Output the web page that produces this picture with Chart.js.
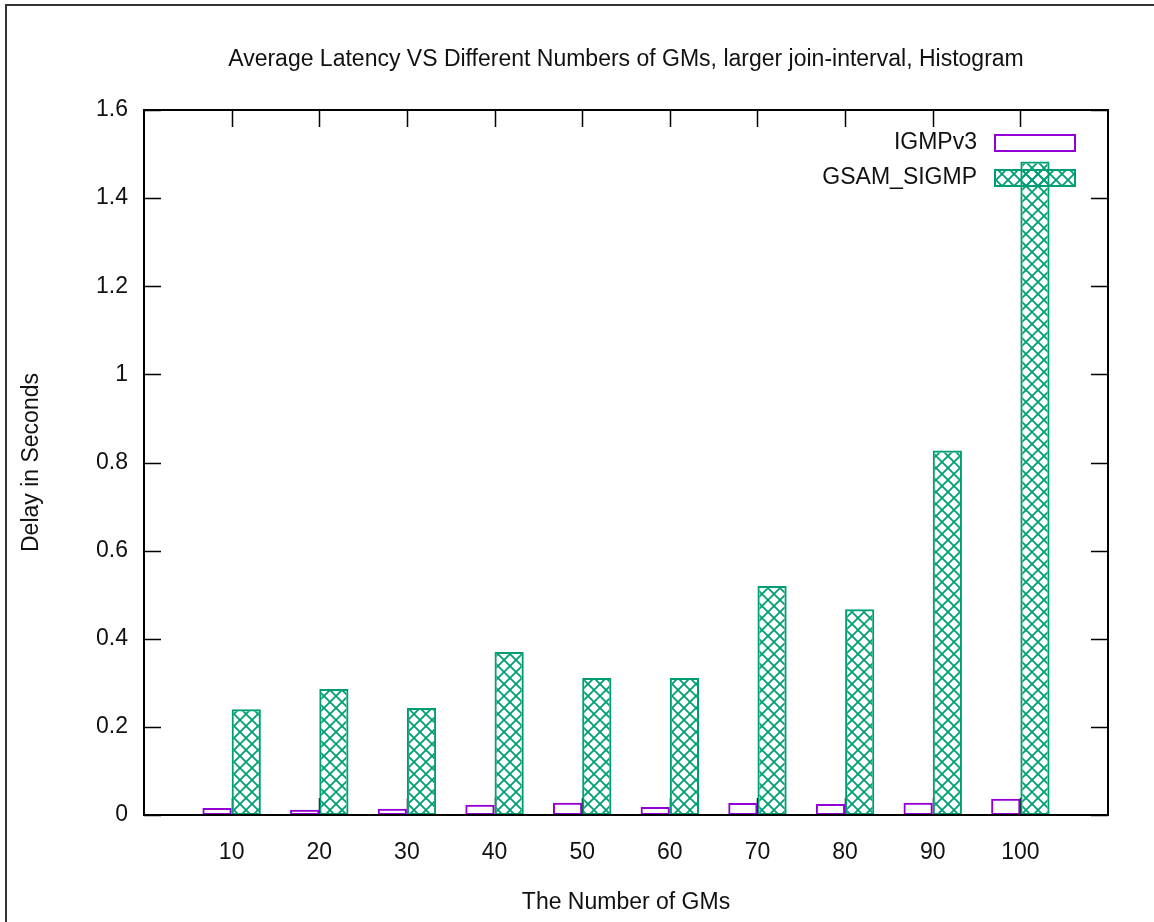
<!DOCTYPE html>
<html>
<head>
<meta charset="utf-8">
<script src="https://cdn.jsdelivr.net/npm/chart.js@4/dist/chart.umd.min.js"></script>
<style>
  html, body { margin: 0; padding: 0; background: #fff; }
  #wrap { width: 1154px; height: 922px; }
</style>
</head>
<body>
<div id="wrap"><canvas id="latencyChart" width="1154" height="922"></canvas></div>
<script>
// dados
const GMS = [10, 20, 30, 40, 50, 60, 70, 80, 90, 100];
const IGMPV3 = [0.016, 0.012, 0.014, 0.023, 0.028, 0.018, 0.027, 0.025, 0.028, 0.037];
const GSAM_SIGMP = [0.240, 0.286, 0.243, 0.370, 0.311, 0.311, 0.520, 0.467, 0.827, 1.483];
const Y_TICKS = [0, 0.2, 0.4, 0.6, 0.8, 1, 1.2, 1.4, 1.6];

const FONT = { family: "'Liberation Sans', Arial, sans-serif", size: 23 };
const TEXT = '#111';
const PURPLE = '#9400d3';
const GREEN = '#009e73';

// padrão xadrez diagonal (estilo gnuplot)
function crossHatch(color) {
    const n = 12;
    const c = document.createElement('canvas');
    c.width = n; c.height = n;
    const g = c.getContext('2d');
    g.strokeStyle = color;
    g.lineWidth = 1.8;
    g.beginPath();
    g.moveTo(-1, -1); g.lineTo(n + 1, n + 1);
    g.moveTo(n + 1, -1); g.lineTo(-1, n + 1);
    g.stroke();
    return g.createPattern(c, 'repeat');
}
const hatch = crossHatch(GREEN);

// moldura, ticks internos e legenda
const gnuplotFrame = {
    id: 'gnuplotFrame',
    beforeDraw(chart) {
        const ctx = chart.ctx;
        ctx.save();
        ctx.strokeStyle = '#333';
        ctx.lineWidth = 2;
        ctx.beginPath();
        ctx.moveTo(6, chart.height);
        ctx.lineTo(6, 5);
        ctx.lineTo(chart.width, 5);
        ctx.stroke();
        ctx.restore();
    },
    beforeDatasetsDraw(chart) {
        const { ctx, chartArea: a, scales } = chart;
        const len = 17;
        ctx.save();
        ctx.strokeStyle = '#000';
        ctx.lineWidth = 1.5;
        ctx.beginPath();
        scales.y.ticks.forEach(t => {
            const py = Math.round(scales.y.getPixelForValue(t.value)) + 0.5;
            ctx.moveTo(a.left, py); ctx.lineTo(a.left + len, py);
            ctx.moveTo(a.right, py); ctx.lineTo(a.right - len, py);
        });
        scales.x.ticks.forEach(t => {
            const px = Math.round(scales.x.getPixelForValue(t.value)) + 0.5;
            ctx.moveTo(px, a.bottom); ctx.lineTo(px, a.bottom - len);
            ctx.moveTo(px, a.top); ctx.lineTo(px, a.top + len);
        });
        ctx.stroke();
        ctx.restore();
    },
    afterDatasetsDraw(chart) {
        const { ctx, chartArea: a } = chart;
        ctx.save();
        ctx.strokeStyle = '#000';
        ctx.lineWidth = 2;
        ctx.strokeRect(a.left, a.top, a.right - a.left, a.bottom - a.top);

        // legenda (texto à esquerda, amostra à direita)
        const boxR = a.right - 32, boxW = 82, boxH = 18;
        const textX = boxR - boxW - 17;
        ctx.font = FONT.size + 'px ' + FONT.family;
        ctx.textAlign = 'right';
        ctx.textBaseline = 'middle';
        chart.data.datasets.forEach((ds, i) => {
            const cy = a.top + 33 + i * 35;
            ctx.fillStyle = TEXT;
            ctx.fillText(ds.label, textX, cy);
            ctx.fillStyle = ds.backgroundColor;
            ctx.fillRect(boxR - boxW, cy - boxH / 2, boxW, boxH);
            ctx.strokeStyle = ds.borderColor;
            ctx.lineWidth = 2;
            ctx.strokeRect(boxR - boxW + 1, cy - boxH / 2 + 1, boxW - 2, boxH - 2);
        });
        ctx.restore();
    }
};

Chart.defaults.font.family = FONT.family;
Chart.defaults.color = TEXT;

new Chart(document.getElementById('latencyChart'), {
    type: 'bar',
    data: {
        datasets: [{
            label: 'IGMPv3',
            data: IGMPV3.map((v, i) => ({ x: i + 1, y: v })),
            backgroundColor: 'rgba(255,255,255,0)',
            borderColor: PURPLE,
            borderWidth: 2,
            borderSkipped: false
        }, {
            label: 'GSAM_SIGMP',
            data: GSAM_SIGMP.map((v, i) => ({ x: i + 1, y: v })),
            backgroundColor: hatch,
            borderColor: GREEN,
            borderWidth: 2,
            borderSkipped: false
        }]
    },
    options: {
        responsive: false,
        animation: false,
        devicePixelRatio: 1,
        categoryPercentage: 2 / 3,
        barPercentage: 1,
        layout: { padding: { left: 0, right: 46, top: 0, bottom: 0 } },
        scales: {
            x: {
                type: 'linear',
                offset: false,
                min: 0,
                max: GMS.length + 1,
                grid: { display: false, drawTicks: false, offset: false },
                border: { display: false },
                afterBuildTicks: s => { s.ticks = s.ticks.filter(t => t.value >= 1 && t.value <= GMS.length); },
                afterFit: s => { s.height = 107; },
                ticks: {
                    stepSize: 1,
                    padding: 24,
                    maxRotation: 0,
                    autoSkip: false,
                    font: { size: FONT.size },
                    callback: v => GMS[v - 1]
                },
                title: {
                    display: true,
                    text: 'The Number of GMs',
                    font: { size: FONT.size },
                    padding: { top: 0, bottom: 6 }
                }
            },
            y: {
                min: 0,
                max: 1.6,
                grid: { display: false, drawTicks: false },
                border: { display: false },
                afterBuildTicks: s => { s.ticks = Y_TICKS.map(v => ({ value: v })); },
                afterFit: s => { s.width = 144; },
                ticks: {
                    padding: 16,
                    font: { size: FONT.size },
                    callback: v => String(+v.toFixed(1))
                },
                title: {
                    display: true,
                    text: 'Delay in Seconds',
                    font: { size: FONT.size },
                    padding: { top: 18, bottom: 0 }
                }
            }
        },
        plugins: {
            legend: { display: false },
            tooltip: { enabled: false },
            title: {
                display: true,
                fullSize: false,
                text: 'Average Latency VS Different Numbers of GMs, larger join-interval, Histogram',
                color: TEXT,
                font: { size: FONT.size, weight: 'normal' },
                padding: { top: 46, bottom: 36.4 }
            }
        }
    },
    plugins: [gnuplotFrame]
});
</script>
</body>
</html>
